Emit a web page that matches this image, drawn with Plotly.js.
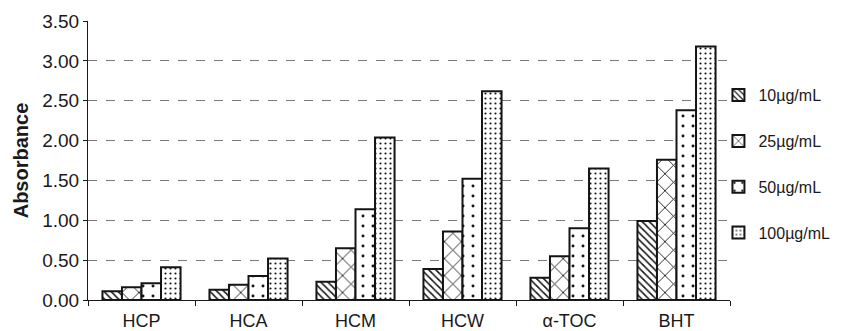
<!DOCTYPE html>
<html>
<head>
<meta charset="utf-8">
<script src="https://cdn.plot.ly/plotly-3.0.1.min.js"></script>
<style>html,body{margin:0;padding:0;background:#fff;}#chart{width:847px;height:331px;}</style>
</head>
<body>
<div id="chart"></div>
<script>
var categories = ["HCP", "HCA", "HCM", "HCW", "α-TOC", "BHT"];
var seriesNames = ["10µg/mL", "25µg/mL", "50µg/mL", "100µg/mL"];
var s10 = [0.11, 0.13, 0.23, 0.39, 0.28, 0.99];
var s25 = [0.16, 0.19, 0.65, 0.86, 0.55, 1.76];
var s50 = [0.21, 0.30, 1.14, 1.52, 0.90, 2.38];
var s100 = [0.41, 0.52, 2.04, 2.62, 1.65, 3.18];
var yTicks = [0, 0.5, 1, 1.5, 2, 2.5, 3, 3.5];

var seriesValues = [s10, s25, s50, s100];
var patterns = [
  {shape: "\\", size: 5, solidity: 0.3},
  {shape: "x", size: 12, solidity: 0.14},
  {shape: ".", size: 10, solidity: 0.07},
  {shape: ".", size: 5, solidity: 0.15}
];

var traces = seriesValues.map(function (vals, i) {
  return {
    type: "bar",
    name: seriesNames[i],
    x: categories,
    y: vals,
    legendgroup: "g" + i,
    marker: {
      color: "#ffffff",
      line: {color: "#141414", width: 2},
      pattern: {
        shape: patterns[i].shape,
        size: patterns[i].size,
        solidity: patterns[i].solidity,
        fgcolor: "#141414",
        bgcolor: "#ffffff",
        fillmode: "replace"
      }
    },
    hoverinfo: "x+y+name"
  };
});

var layout = {
  width: 847,
  height: 331,
  margin: {l: 88, r: 112, t: 21, b: 31},
  paper_bgcolor: "#ffffff",
  plot_bgcolor: "#ffffff",
  barmode: "group",
  bargap: 0.27,
  bargroupgap: 0,
  font: {family: "Liberation Sans, Arial, sans-serif", color: "#1a1a1a"},
  xaxis: {
    type: "category",
    showline: true,
    linecolor: "#1a1a1a",
    linewidth: 1,
    ticks: "outside",
    tickson: "boundaries",
    ticklen: 5,
    tickcolor: "#1a1a1a",
    ticklabelstandoff: 4,
    showgrid: false,
    tickfont: {size: 18, family: "Liberation Sans, Arial, sans-serif", color: "#1a1a1a"},
    automargin: false
  },
  yaxis: {
    range: [0, 3.5],
    tickvals: yTicks,
    tickformat: ".2f",
    showline: true,
    linecolor: "#1a1a1a",
    linewidth: 1,
    ticks: "outside",
    ticklen: 4,
    tickcolor: "#1a1a1a",
    showgrid: true,
    gridcolor: "#7a7a7a",
    griddash: "dash",
    gridwidth: 1,
    zeroline: false,
    tickfont: {size: 19, family: "Liberation Sans, Arial, sans-serif", color: "#1a1a1a"},
    title: {text: "<b>Absorbance</b>", font: {size: 20, family: "Liberation Sans, Arial, sans-serif", color: "#1a1a1a"}, standoff: 8},
    automargin: false
  },
  legend: {
    x: 0.982,
    xanchor: "left",
    y: 0.795,
    yanchor: "top",
    traceorder: "grouped",
    tracegroupgap: 22,
    font: {size: 16, family: "Liberation Sans, Arial, sans-serif", color: "#1a1a1a"},
    bgcolor: "rgba(0,0,0,0)",
    itemwidth: 30
  },
  showlegend: true
};

Plotly.newPlot("chart", traces, layout, {displayModeBar: false, staticPlot: true});
</script>
</body>
</html>
